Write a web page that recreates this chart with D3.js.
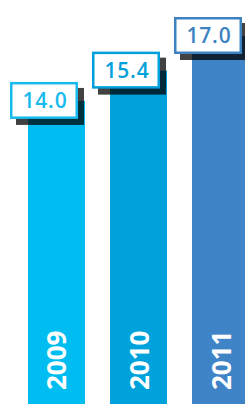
<!DOCTYPE html>
<html>
<head>
<meta charset="utf-8">
<script src="https://cdn.jsdelivr.net/npm/d3@7"></script>
<style>
  html, body { margin: 0; padding: 0; background: #fff; }
  svg { display: block; }
</style>
</head>
<body>
<div id="chart"></div>
<script>
// chart data
var years = ["2009", "2010", "2011"];
var values = [14.0, 15.4, 17.0];
var barColors = ["#00bdf1", "#00a2db", "#3e84c6"];
var labelColors = ["#18b9ec", "#00a0da", "#3d83c4"];

w = 245;
h = 404;

var svg = d3.select("#chart")
    .append("svg")
    .attr("width", w)
    .attr("height", h);

// scales
var x = d3.scaleBand()
    .domain(years)
    .range([28, 249])
    .paddingInner(0.305)
    .paddingOuter(0);

var y = d3.scaleLinear()
    .domain([0, 17])
    .range([h, 36]);

var data = years.map(function (yr, i) {
    return { year: yr, value: values[i], bar: barColors[i], label: labelColors[i] };
});

// bars
svg.selectAll(".bar")
    .data(data)
    .enter()
    .append("rect")
    .attr("class", "bar")
    .attr("x", d => x(d.year))
    .attr("y", d => y(d.value))
    .attr("width", x.bandwidth())
    .attr("height", d => h - y(d.value))
    .attr("fill", d => d.bar);

// value boxes (shadow + framed box + text)
var boxW = 68, boxH = 37;
var tags = svg.selectAll(".tag")
    .data(data)
    .enter()
    .append("g")
    .attr("class", "tag")
    .attr("transform", d => "translate(" + (x(d.year) - 18) + "," + (y(d.value) - 19) + ")");

tags.append("rect")
    .attr("x", 6)
    .attr("y", 6)
    .attr("width", boxW)
    .attr("height", boxH)
    .attr("fill", "#000")
    .attr("fill-opacity", 0.74);

tags.append("rect")
    .attr("x", 1.25)
    .attr("y", 1.25)
    .attr("width", boxW - 2.5)
    .attr("height", boxH - 2.5)
    .attr("fill", "#fff")
    .attr("stroke", d => d.label)
    .attr("stroke-width", 2.5);

tags.append("text")
    .attr("x", boxW / 2 + 1)
    .attr("y", boxH / 2 + 7.5)
    .attr("text-anchor", "middle")
    .attr("font-family", "'Open Sans', sans-serif")
    .attr("font-weight", 600)
    .attr("font-size", 21)
    .attr("letter-spacing", 0.8)
    .attr("fill", d => d.label)
    .text(d => d.value.toFixed(1));

// year labels, rotated inside bars
svg.selectAll(".year")
    .data(data)
    .enter()
    .append("text")
    .attr("class", "year")
    .attr("transform", d => "translate(" + (x(d.year) + x.bandwidth() / 2 + 10) + "," + 390 + ") rotate(-90)")
    .attr("font-family", "'Open Sans', sans-serif")
    .attr("font-weight", 700)
    .attr("font-size", 26)
    .attr("fill", "#fff")
    .text(d => d.year);
</script>
</body>
</html>
